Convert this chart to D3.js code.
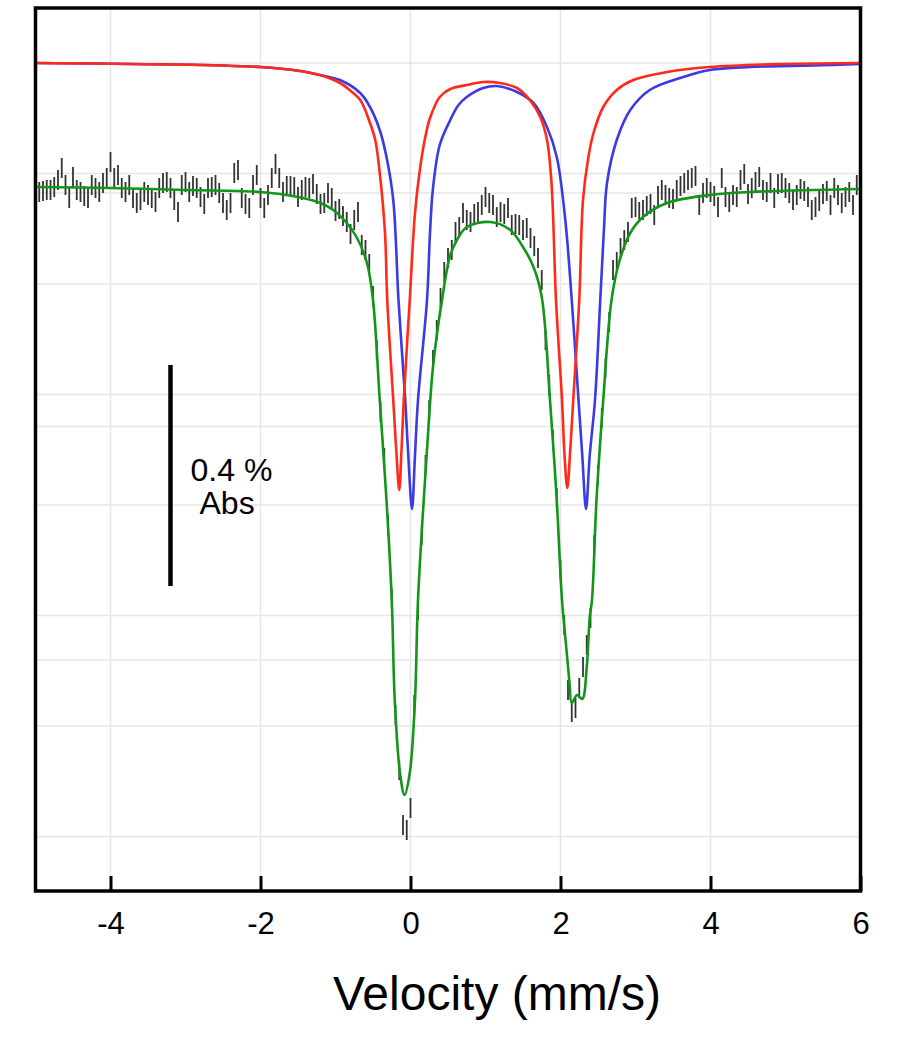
<!DOCTYPE html>
<html>
<head>
<meta charset="utf-8">
<script src="https://cdn.jsdelivr.net/npm/d3@7"></script>
<style>
	body { margin: 0; background: #fff; }
	text { font-family: "Liberation Sans", Arial, Helvetica, sans-serif; fill: #000; }
</style>
</head>
<body>
<div id="chart"></div>
<script>
// channel velocities (mm/s)
var velocity = [
	-5,-4.95,-4.9,-4.85,-4.8,-4.75,-4.7,-4.65,-4.6,-4.55,
	-4.5,-4.45,-4.4,-4.35,-4.3,-4.25,-4.2,-4.15,-4.1,-4.05,
	-4,-3.95,-3.9,-3.85,-3.8,-3.75,-3.7,-3.65,-3.6,-3.55,
	-3.5,-3.45,-3.4,-3.35,-3.3,-3.25,-3.2,-3.15,-3.1,-3.05,
	-3,-2.95,-2.9,-2.85,-2.8,-2.75,-2.7,-2.65,-2.6,-2.55,
	-2.5,-2.45,-2.4,-2.35,-2.3,-2.25,-2.2,-2.15,-2.1,-2.05,
	-2,-1.95,-1.9,-1.85,-1.8,-1.75,-1.7,-1.65,-1.6,-1.55,
	-1.5,-1.45,-1.4,-1.35,-1.3,-1.25,-1.2,-1.15,-1.1,-1.05,
	-1,-0.95,-0.9,-0.85,-0.8,-0.75,-0.7,-0.65,-0.6,-0.55,
	-0.5,-0.45,-0.4,-0.35,-0.3,-0.25,-0.2,-0.15,-0.1,-0.05,
	0,0.05,0.1,0.15,0.2,0.25,0.3,0.35,0.4,0.45,
	0.5,0.55,0.6,0.65,0.7,0.75,0.8,0.85,0.9,0.95,
	1,1.05,1.1,1.15,1.2,1.25,1.3,1.35,1.4,1.45,
	1.5,1.55,1.6,1.65,1.7,1.75,1.8,1.85,1.9,1.95,
	2,2.05,2.1,2.15,2.2,2.25,2.3,2.35,2.4,2.45,
	2.5,2.55,2.6,2.65,2.7,2.75,2.8,2.85,2.9,2.95,
	3,3.05,3.1,3.15,3.2,3.25,3.3,3.35,3.4,3.45,
	3.5,3.55,3.6,3.65,3.7,3.75,3.8,3.85,3.9,3.95,
	4,4.05,4.1,4.15,4.2,4.25,4.3,4.35,4.4,4.45,
	4.5,4.55,4.6,4.65,4.7,4.75,4.8,4.85,4.9,4.95,
	5,5.05,5.1,5.15,5.2,5.25,5.3,5.35,5.4,5.45,
	5.5,5.55,5.6,5.65,5.7,5.75,5.8,5.85,5.9,5.95
];

// measured counts per channel
var counts = [
	552450,552450,552460,552470,552470,552500,552570,552690,552520,552390,
	552600,552470,552450,552410,552390,552520,552490,552450,552540,552590,
	552750,552590,552620,552490,552450,552520,552390,552340,552370,552450,
	552420,552390,552350,552490,552540,552550,552490,552370,552250,552520,
	552550,552450,552510,552490,552400,552330,552490,552500,552520,552440,
	552340,552270,552340,552640,552670,552390,552330,552290,552520,552620,
	552390,552290,552420,552590,552730,552590,552450,552510,552510,552500,
	552400,552470,552500,552490,552530,552430,552330,552340,552440,552390,
	552260,552280,552210,552150,552030,552170,552250,551920,551870,551730,
	551410,550870,550250,549790,549120,548390,547220,546670,546120,546070,
	546290,547320,548270,549020,549720,550270,550770,551070,551390,551650,
	551790,551870,552050,552100,552240,552170,552150,552230,552250,552320,
	552400,552340,552320,552200,552250,552230,552290,552120,552130,552120,
	552070,552090,551990,551910,551790,551570,550970,550520,549970,549390,
	548670,548120,547470,547250,547290,547490,547700,547920,548190,548920,
	549620,550190,550690,551150,551670,551750,551890,551970,552050,552290,
	552300,552250,552270,552310,552330,552220,552410,552470,552420,552390,
	552380,552470,552510,552540,552570,552590,552610,552320,552440,552490,
	552450,552410,552300,552590,552400,552350,552420,552400,552570,552630,
	552430,552490,552550,552600,552470,552450,552540,552390,552530,552540,
	552490,552440,552370,552420,552480,552460,552400,552270,552300,552360,
	552430,552460,552320,552490,552420,552340,552400,552450,552320,552520
];
var countErr = 100;
var baseCounts = 552500;

// total fit (green)
var fitVel = [-5,-4,-3,-2,-1.5,-1.2,-1.03,-0.85,-0.72,-0.58,-0.5,-0.41,-0.32,-0.25,-0.21,-0.14,-0.08,-0.01,
	0.06,0.1,0.22,0.3,0.42,0.53,0.62,0.75,1.06,1.33,1.5,1.64,1.75,1.86,1.95,2.02,2.08,2.12,2.15,2.22,2.29,
	2.35,2.39,2.42,2.48,2.57,2.68,2.79,2.93,3.1,3.42,3.99,4.53,6];
var fitCounts = [552500,552490,552470,552450,552400,552340,552270,552140,552000,551740,551370,550370,549370,548370,547370,546640,546420,546640,
	547370,548370,549870,550700,551370,551820,551970,552100,552150,552070,551900,551700,551400,550370,549370,548370,547870,547540,547340,547420,547380,
	547700,548200,548370,549370,550370,551370,551770,552040,552200,552340,552420,552450,552480];

// site 1 doublet (red)
var site1Vel = [-5,-2,-1.47,-1.21,-0.94,-0.81,-0.67,-0.54,-0.47,-0.41,-0.34,-0.31,-0.23,-0.19,-0.15,-0.12,-0.09,-0.01,
	0.06,0.13,0.2,0.26,0.39,0.53,0.75,0.97,1.19,1.42,1.59,1.73,1.82,1.88,1.94,2.02,2.05,2.09,2.13,2.17,2.25,2.3,2.37,2.44,
	2.57,2.75,2.97,3.42,3.99,4.97,6];
var site1Counts = [552500,552460,552420,552380,552300,552230,552130,551900,551730,551400,550800,550130,549130,548630,548230,548630,549130,550130,
	551000,551460,551770,551950,552160,552240,552280,552310,552300,552250,552130,551960,551730,551300,550130,549130,548630,548250,548630,549130,550130,551130,551550,551800,
	552060,552230,552330,552410,552460,552490,552500];

// site 2 doublet (blue)
var site2Vel = [-5,-2,-1.47,-1.21,-0.94,-0.67,-0.54,-0.41,-0.32,-0.23,-0.16,-0.07,-0.03,0.02,0.06,0.1,0.22,0.26,0.3,0.39,
	0.53,0.64,0.75,0.97,1.15,1.42,1.64,1.82,1.95,2.06,2.15,2.24,2.29,2.34,2.39,2.46,2.53,2.58,2.62,2.75,2.93,3.19,3.64,
	3.99,4.53,5.63,6];
var site2Counts = [552500,552460,552420,552380,552330,552200,552060,551830,551560,551130,550130,549130,548580,548040,548580,549130,550130,550800,551250,551680,
	551930,552080,552160,552250,552270,552210,552100,551860,551560,550960,550130,549130,548580,548040,548580,549130,550130,550850,551300,551730,552030,552230,552360,
	552430,552460,552480,552490];

var xTicks = [-4, -2, 0, 2, 4, 6];
var xGrid = [-4, -2, 0, 2, 4];
var yGrid = [553740, 552635, 551530, 550425, 549320, 548215, 547110, 546005, 552440, 550105, 547770];
var scalePct = 0.4;

var SpectrumPlot = function(view, plotWidth, plotHeight){
	const s = this;

	const
		LEFT = 35.5, RIGHT = 860.5, TOP = 8, BOTTOM = 891,
		TICK_LEN = 15,
		SITE_SHIFT = 1240,   // components are drawn above the data
		BAR_V = -3.2, BAR_TOP = 550720;

	var svg, x, y;

	s.init = function(){
		s.putToView();
		s.drawGrid();
		s.drawData();
		s.drawFits();
		s.drawFrame();
		s.drawScaleBar();
	}

	s.putToView = function(){
		svg = d3.select(view)
			.append("svg")
			.attr("width", plotWidth)
			.attr("height", plotHeight);
		x = d3.scaleLinear().domain([-5, 6]).range([LEFT, RIGHT]);
		y = d3.scaleLinear().domain([545470, 554290]).range([890, 8]);
	}

	s.drawGrid = function(){
		var g = svg.append("g").attr("class", "grid")
			.style("stroke", "#e6e6e6").style("stroke-width", 1.6);
		g.selectAll(".gx").data(xGrid).enter().append("line")
			.attr("x1", d => x(d)).attr("x2", d => x(d))
			.attr("y1", TOP).attr("y2", BOTTOM);
		g.selectAll(".gy").data(yGrid).enter().append("line")
			.attr("x1", LEFT).attr("x2", RIGHT)
			.attr("y1", d => y(d)).attr("y2", d => y(d));
	}

	s.drawData = function(){
		var pts = velocity.map((v, i) => ({v: v, c: counts[i]}));
		svg.append("g").attr("class", "data")
			.selectAll("line").data(pts).enter().append("line")
			.attr("x1", d => x(d.v)).attr("x2", d => x(d.v))
			.attr("y1", d => y(d.c + countErr)).attr("y2", d => y(d.c - countErr))
			.style("stroke", "#333")
			.style("stroke-width", 1.8);
	}

	s.drawFits = function(){
		var line = d3.line().curve(d3.curveCatmullRom.alpha(0.5));
		var curves = [
			{v: fitVel, c: fitCounts, shift: 0, color: "#12961a"},
			{v: site2Vel, c: site2Counts, shift: SITE_SHIFT, color: "#3a3ae6"},
			{v: site1Vel, c: site1Counts, shift: SITE_SHIFT, color: "#ff2a1a"}
		];
		curves.forEach(function(o){
			svg.append("path")
				.attr("d", line(o.v.map((v, i) => [x(v), y(o.c[i] + o.shift)])))
				.style("fill", "none")
				.style("stroke", o.color)
				.style("stroke-width", 2.6);
		});
	}

	s.drawFrame = function(){
		svg.append("rect")
			.attr("x", LEFT).attr("y", TOP)
			.attr("width", RIGHT - LEFT).attr("height", BOTTOM - TOP)
			.style("fill", "none").style("stroke", "#000").style("stroke-width", 3.5);

		var xAxis = d3.axisBottom(x)
			.tickValues(xTicks)
			.tickSizeInner(-TICK_LEN)
			.tickSizeOuter(0)
			.tickPadding(21)
			.tickFormat(d => String(d));
		var ax = svg.append("g")
			.attr("class", "axis")
			.attr("transform", "translate(0," + BOTTOM + ")")
			.call(xAxis);
		ax.select(".domain").remove();
		ax.selectAll("line").style("stroke", "#000").style("stroke-width", 3);
		ax.selectAll("text").style("font-size", "31px")
			.style("font-family", "'Liberation Sans', Arial, sans-serif").attr("fill", "#000");

		svg.append("text")
			.attr("x", 497).attr("y", 1010)
			.style("text-anchor", "middle")
			.style("font-size", "48px")
			.text("Velocity (mm/s)");
	}

	s.drawScaleBar = function(){
		var bx = x(BAR_V),
			y1 = y(BAR_TOP), y2 = y(BAR_TOP - baseCounts * scalePct / 100),
			mid = (y1 + y2) / 2;
		svg.append("line")
			.attr("x1", bx).attr("x2", bx).attr("y1", y1).attr("y2", y2)
			.style("stroke", "#000").style("stroke-width", 4.5);
		svg.append("text")
			.attr("x", bx + 20).attr("y", mid + 5)
			.style("font-size", "32px")
			.text(scalePct + " %");
		svg.append("text")
			.attr("x", bx + 29).attr("y", mid + 38)
			.style("font-size", "32px")
			.text("Abs");
	}
}

new SpectrumPlot("#chart", 899, 1050).init();
</script>
</body>
</html>
